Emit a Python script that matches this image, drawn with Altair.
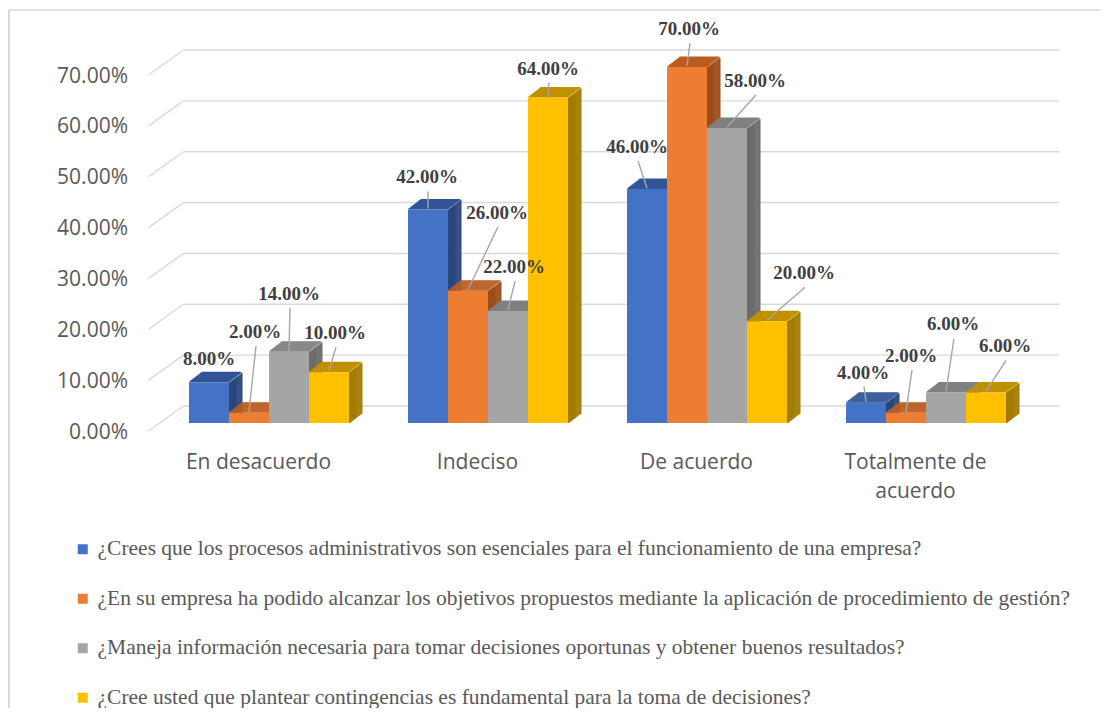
import json
import altair as alt
import pandas as pd

# ---------------- data ----------------
categories = ["En desacuerdo", "Indeciso", "De acuerdo", "Totalmente de acuerdo"]
series_names = [
    "¿Crees que los procesos administrativos son esenciales para el funcionamiento de una empresa?",
    "¿En su empresa ha podido alcanzar los objetivos propuestos mediante la aplicación de procedimiento de gestión?",
    "¿Maneja información necesaria para tomar decisiones oportunas y obtener buenos resultados?",
    "¿Cree usted que plantear contingencias es fundamental para la toma de decisiones?",
]
values_q1 = [0.08, 0.42, 0.46, 0.04]
values_q2 = [0.02, 0.26, 0.70, 0.02]
values_q3 = [0.14, 0.22, 0.58, 0.06]
values_q4 = [0.10, 0.64, 0.20, 0.06]
y_ticks = [0.0, 0.1, 0.2, 0.3, 0.4, 0.5, 0.6, 0.7]

# ---------------- styles ----------------
FRONT = ["#4472C4", "#ED7D31", "#A5A5A5", "#FFC000"]
TOP = ["#315496", "#BA5C20", "#808080", "#BF9000"]
SIDE = ["#29477E", "#9E4D1A", "#6C6C6C", "#A37C00"]
GRID = "#D9D9D9"
AXIS_TXT = "#595959"
LBL_TXT = "#404040"
SANS = "Open Sans"
SERIF = "Liberation Serif"
DEPTH_X, DEPTH_Y = 13, 10          # bar depth (px)
# label placement (px) relative to the bar's top-front centre
LABEL_DX = [[0, -1, -10, -3], [6, 29, 2, 5], [0, 6, 28, 7], [6, 0, 37, 19]]
LABEL_DY = [[-23, -32, -42, -30], [-81, -78, -38, -57], [-58, -44, -47, -68], [-39, -29, -48, -46]]

W, H = 876, 356
PAD = {"left": 151.5, "top": 59, "right": 65, "bottom": 285}
BW = 40 / 219  # bar width as a fraction of a category band

rows = []
for si, vals in enumerate([values_q1, values_q2, values_q3, values_q4]):
    for ci, cat in enumerate(categories):
        rows.append({"cat": cat, "ci": ci, "series": series_names[si], "si": si, "v": vals[ci]})
df = pd.DataFrame(rows)

base = alt.Chart(df).transform_calculate(
    xl=f"datum.ci + 0.5 + (datum.si - 2) * {BW}",
    xr=f"datum.ci + 0.5 + (datum.si - 1) * {BW}",
    xc=f"datum.ci + 0.5 + (datum.si - 1.5) * {BW}",
    zero="0",
    sidecol=f"{json.dumps(SIDE)}[datum.si]",
    topcol=f"{json.dumps(TOP)}[datum.si]",
)

xscale = alt.Scale(domain=[0, 4], nice=False, zero=False)
yscale = alt.Scale(domain=[0, 0.7], nice=False)
yaxis = alt.Axis(values=y_ticks, format=".2%", grid=False, domain=False, ticks=False,
                 labelPadding=32, labelOffset=9, labelFont=SANS, labelFontSize=21,
                 labelColor=AXIS_TXT, title=None)


def Y(field):
    return alt.Y(field, scale=yscale, axis=yaxis)


layers = []

# back wall grid lines and floor diagonals
tick_df = pd.DataFrame({"t": y_ticks})
layers.append(alt.Chart(tick_df).mark_rule(color=GRID, strokeWidth=1.4, xOffset=24, x2Offset=24, yOffset=-17).encode(
    x=alt.X(datum=0, scale=xscale, axis=None), x2=alt.X2(datum=4),
    y=Y("t:Q")))
layers.append(alt.Chart(tick_df).mark_rule(color=GRID, strokeWidth=1.4, xOffset=-11, x2Offset=24, yOffset=8, y2Offset=-17).encode(
    x=alt.X(datum=0, scale=xscale, axis=None), x2=alt.X2(datum=0),
    y=Y("t:Q"), y2=alt.Y2("t:Q")))

# outer frame (left + top edges)
one = pd.DataFrame({"a": [0]})
layers.append(alt.Chart(one).mark_rule(color=GRID, strokeWidth=2).encode(
    x=alt.value(-150.5), y=alt.value(-57), y2=alt.value(H + PAD["bottom"])))
layers.append(alt.Chart(one).mark_rule(color=GRID, strokeWidth=1.5).encode(
    x=alt.value(-150.5), x2=alt.value(W + PAD["right"]), y=alt.value(-57)))

# side faces (parallelograms built from thin slices)
NS = 14
for k in range(NS):
    sx = DEPTH_X * k / NS
    sy = DEPTH_Y * k / NS
    layers.append(base.mark_rect(xOffset=sx, x2Offset=sx + DEPTH_X / NS + 0.5,
                                 yOffset=-sy, y2Offset=-sy).encode(
        x=alt.X("xr:Q", scale=xscale, axis=None), x2="xr:Q",
        y=Y("v:Q"), y2="zero:Q",
        fill=alt.Fill("sidecol:N", scale=None)))

# top faces
NT = 10
for j in range(NT):
    tx = DEPTH_X * (j + 0.5) / NT
    ty = DEPTH_Y * j / NT
    layers.append(base.mark_rect(xOffset=tx, x2Offset=tx,
                                 yOffset=-ty - DEPTH_Y / NT - 0.5, y2Offset=-ty).encode(
        x=alt.X("xl:Q", scale=xscale, axis=None), x2="xr:Q",
        y=Y("v:Q"), y2="v:Q",
        fill=alt.Fill("topcol:N", scale=None)))

# front faces (with legend)
layers.append(base.mark_rect().encode(
    x=alt.X("xl:Q", scale=xscale, axis=None), x2="xr:Q",
    y=Y("v:Q"),
    y2="zero:Q",
    color=alt.Color("series:N", scale=alt.Scale(domain=series_names, range=FRONT),
                    legend=alt.Legend(title=None, orient="none", legendX=-87.5, legendY=471.5,
                                      direction="vertical", symbolType="square", symbolSize=100,
                                      symbolStrokeWidth=0, labelFont=SERIF, labelFontSize=21.5,
                                      labelColor=AXIS_TXT, labelLimit=1100, rowPadding=26.5,
                                      labelOffset=4, padding=0)),
))

# leader lines
for si in range(4):
    for ci in range(4):
        dx, dy = LABEL_DX[si][ci], LABEL_DY[si][ci]
        if dy > -26:
            continue
        layers.append(base.transform_filter(f"datum.si == {si} && datum.ci == {ci}").mark_rule(
            color="#A6A6A6", strokeWidth=1.4, xOffset=dx + 1, yOffset=dy + 14, x2Offset=0, y2Offset=-1).encode(
            x=alt.X("xc:Q", scale=xscale, axis=None), x2="xc:Q",
            y=Y("v:Q"), y2="v:Q"))

# data labels
for si in range(4):
    for ci in range(4):
        dx, dy = LABEL_DX[si][ci], LABEL_DY[si][ci]
        layers.append(base.transform_filter(f"datum.si == {si} && datum.ci == {ci}").mark_text(
            font=SERIF, fontSize=19, fontWeight="bold", color=LBL_TXT, dx=dx, dy=dy,
            baseline="middle", align="center").encode(
            x=alt.X("xc:Q", scale=xscale, axis=None), y=Y("v:Q"),
            text=alt.Text("v:Q", format=".2%")))

# category labels (front floor plane)
cat_df = pd.DataFrame({"cat": categories, "ci": list(range(len(categories)))})
wrap = ("length(datum.cat) > 14 ? [slice(datum.cat, 0, lastindexof(datum.cat, ' ')), "
        "slice(datum.cat, lastindexof(datum.cat, ' ') + 1)] : datum.cat")
layers.append(alt.Chart(cat_df).transform_calculate(cx="datum.ci + 0.5", lab=wrap).mark_text(
    font=SANS, fontSize=21, color=AXIS_TXT, dx=-10.5, dy=46, baseline="alphabetic",
    align="center", lineHeight=29).encode(
    x=alt.X("cx:Q", scale=xscale, axis=None), y=alt.Y(datum=0, scale=yscale, axis=yaxis), text="lab:N"))

chart = alt.LayerChart(layer=layers).properties(
    width=W, height=H, padding=PAD, autosize="none", background="white"
).configure_view(stroke=None)

chart.save("out.html", embed_options={"renderer": "svg", "actions": False})
